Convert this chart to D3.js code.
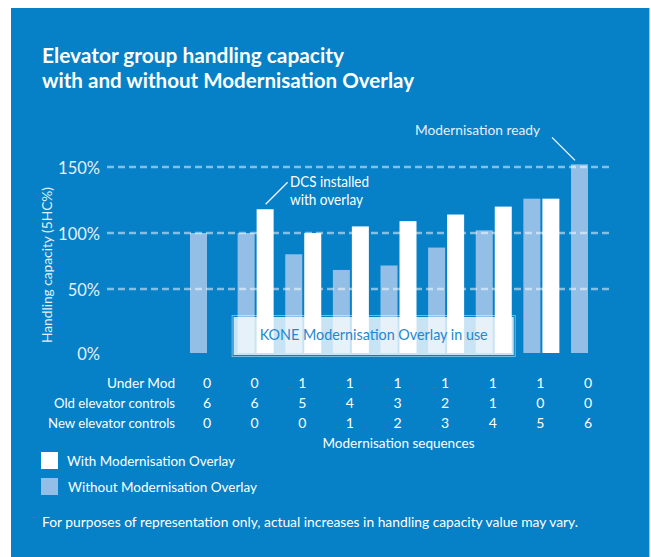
<!DOCTYPE html>
<html><head><meta charset="utf-8">
<script src="https://cdn.jsdelivr.net/npm/d3@7"></script>
<style>
html,body{margin:0;padding:0;background:#fff;}
svg{display:block;}
text{font-family:"Lato","Open Sans",sans-serif;}
</style>
</head><body>
<svg id="c" width="651" height="557"></svg>
<script>
// ---------- data ----------
const sequences = ["S1","S2","S3","S4","S5","S6","S7","S8","S9"];
const withoutOverlay = [100,100,81,67,71,87,102,126,152];
const withOverlay = [null,118,100,105,109,114,120,126,null];
const underMod = [0,0,1,1,1,1,1,1,0];
const oldControls = [6,6,5,4,3,2,1,0,0];
const newControls = [0,0,0,1,2,3,4,5,6];
const rowLabels = ["Under Mod","Old elevator controls","New elevator controls"];
const yTicks = [0,50,100,150];
const gridTicks = [50,100,150];
const seriesKeys = ["without","with"];
const legendLabels = ["With Modernisation Overlay","Without Modernisation Overlay"];
const overlaySpan = ["S2","S7"];

// ---------- styles ----------
const BLUE = "#0680C6";
const LIGHT = "#93BFE6";

const svg = d3.select("#c");
function fit(sel, w){ sel.attr("textLength", w).attr("lengthAdjust","spacingAndGlyphs"); return sel; }

// panel
svg.append("rect").attr("x",11).attr("y",8).attr("width",638).attr("height",560).attr("fill",BLUE);
svg.append("line").attr("x1",649.5).attr("x2",649.5).attr("y1",8).attr("y2",557).attr("stroke","#9ACBEB").attr("stroke-width",1);

// title
fit(svg.append("text").attr("x",42).attr("y",63).attr("fill","#fff").attr("font-size",21).attr("font-weight",700)
  .text("Elevator group handling capacity"),302);
fit(svg.append("text").attr("x",42).attr("y",88).attr("fill","#fff").attr("font-size",21).attr("font-weight",700)
  .text("with and without Modernisation Overlay"),372);

// scales
const x = d3.scalePoint().domain(sequences).range([208,589]);
const xs = d3.scaleBand().domain(seriesKeys).range([-18,18]).paddingInner(2/19).paddingOuter(0);
const y = d3.scaleLinear().domain([0,50,100,150]).range([353,289,233,167]);

// bars
const gBars = svg.append("g");
gBars.selectAll("rect.wo").data(sequences.map((s,i)=>({s,v:withoutOverlay[i]})).filter(d=>d.v!=null))
  .join("rect").attr("class","wo")
  .attr("x",d=>x(d.s)+xs("without")).attr("width",xs.bandwidth())
  .attr("y",d=>y(d.v)).attr("height",d=>y(0)-y(d.v)).attr("fill",LIGHT);
gBars.selectAll("rect.wi").data(sequences.map((s,i)=>({s,v:withOverlay[i]})).filter(d=>d.v!=null))
  .join("rect").attr("class","wi")
  .attr("x",d=>x(d.s)+xs("with")).attr("width",xs.bandwidth())
  .attr("y",d=>y(d.v)).attr("height",d=>y(0)-y(d.v)).attr("fill","#fff");

// overlay box
const bx0 = x(overlaySpan[0]) + xs("without") - 6;
const bx1 = x(overlaySpan[1]) + xs("with") + xs.bandwidth() + 4;
svg.append("rect").attr("x",bx0+2).attr("y",317).attr("width",bx1-bx0-4).attr("height",38)
  .attr("fill","#fff").attr("fill-opacity",0.78);
svg.append("rect").attr("x",bx0+0.5).attr("y",315.5).attr("width",bx1-bx0-1).attr("height",41)
  .attr("fill","none").attr("stroke","#fff").attr("stroke-opacity",0.45).attr("stroke-width",1);
fit(svg.append("text").attr("x",(bx0+bx1)/2).attr("y",340).attr("text-anchor","middle")
  .attr("fill","#1E88D0").attr("font-size",16).text("KONE Modernisation Overlay in use"),228);

// gridlines
svg.append("g").selectAll("line").data(gridTicks).join("line")
  .attr("x1",107).attr("x2",612).attr("y1",d=>y(d)).attr("y2",d=>y(d))
  .attr("stroke","#fff").attr("stroke-opacity",0.5).attr("stroke-width",2.5).attr("stroke-dasharray","7,4");

// y labels
svg.append("g").selectAll("text").data(yTicks).join("text")
  .attr("x",100).attr("y",d=>y(d)+7).attr("text-anchor","end")
  .attr("fill","#E4F0FA").attr("font-size",16.5).text(d=>d+"%");
fit(svg.append("text").attr("transform","translate(52,265) rotate(-90)").attr("text-anchor","middle")
  .attr("fill","#E4F0FA").attr("font-size",14).text("Handling capacity (5HC%)"),156);

// annotations
const dx = x("S2")+xs("with"), dy = y(withOverlay[1]);
svg.append("line").attr("x1",dx+9).attr("y1",dy-5).attr("x2",dx+31).attr("y2",dy-27)
  .attr("stroke","#fff").attr("stroke-width",1.2);
fit(svg.append("text").attr("x",290).attr("y",187).attr("fill","#fff").attr("font-size",14.5).text("DCS installed"),79);
fit(svg.append("text").attr("x",290).attr("y",204.5).attr("fill","#fff").attr("font-size",14.5).text("with overlay"),73);

const mx = x("S9")+xs("without"), my = y(withoutOverlay[8]);
svg.append("line").attr("x1",mx+4).attr("y1",my-4).attr("x2",mx-19).attr("y2",my-27)
  .attr("stroke","#fff").attr("stroke-width",1.2);
fit(svg.append("text").attr("x",415).attr("y",135).attr("fill","#E4F0FA").attr("font-size",14).text("Modernisation ready"),125);

// table
const rows = [underMod, oldControls, newControls];
const rowY = [388,408,428];
const rowW = [68,121,127];
rows.forEach((r,ri)=>{
  fit(svg.append("text").attr("x",175).attr("y",rowY[ri]).attr("text-anchor","end")
    .attr("fill","#fff").attr("font-size",14).text(rowLabels[ri]), rowW[ri]);
  svg.append("g").selectAll("text").data(sequences.map((s,i)=>({s,v:r[i]}))).join("text")
    .attr("x",d=>x(d.s)-1).attr("y",rowY[ri]).attr("text-anchor","middle")
    .attr("fill","#fff").attr("font-size",14).text(d=>d.v);
});
fit(svg.append("text").attr("x",(x("S1")+x("S9"))/2).attr("y",448).attr("text-anchor","middle")
  .attr("fill","#fff").attr("font-size",14).text("Modernisation sequences"),152);

// legend
const legColors = ["#fff", LIGHT];
const legY = [452,478];
const legTx = [67,68];
const legW = [168,189];
legendLabels.forEach((l,i)=>{
  svg.append("rect").attr("x",41).attr("y",legY[i]).attr("width",17).attr("height",17).attr("fill",legColors[i]);
  fit(svg.append("text").attr("x",legTx[i]).attr("y",legY[i]+13.5).attr("fill","#fff").attr("font-size",14).text(l), legW[i]);
});

// footer
fit(svg.append("text").attr("x",42).attr("y",527).attr("fill","#fff").attr("font-size",14)
  .text("For purposes of representation only, actual increases in handling capacity value may vary."),536);
</script>
</body></html>
